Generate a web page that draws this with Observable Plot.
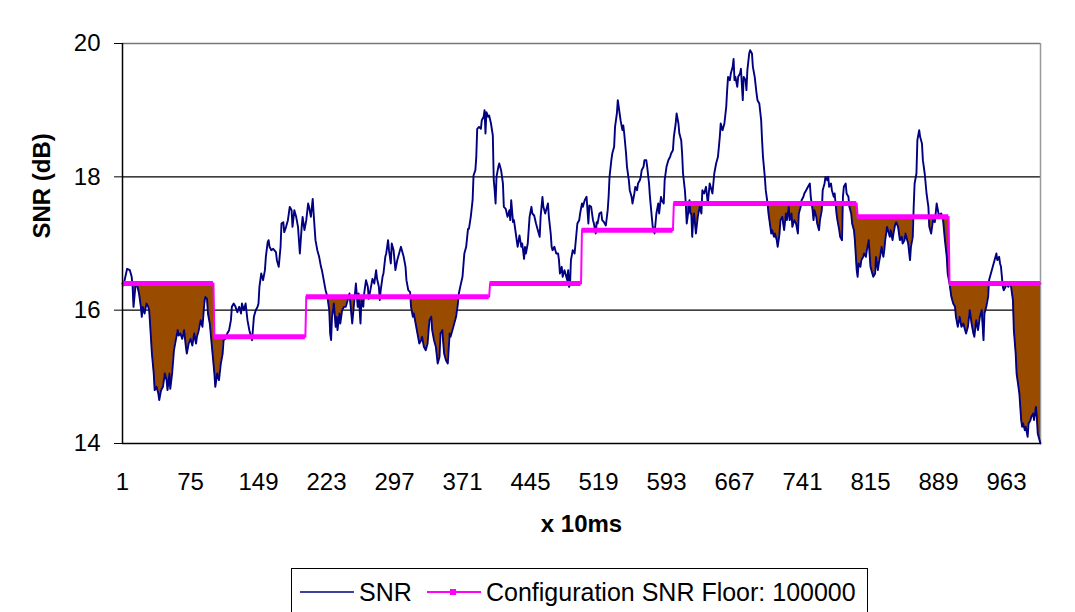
<!DOCTYPE html>
<html>
<head>
<meta charset="utf-8">
<script src="https://cdn.jsdelivr.net/npm/d3@7"></script>
<script src="https://cdn.jsdelivr.net/npm/@observablehq/plot@0.6"></script>
<style>
  html, body { margin: 0; padding: 0; background: #fff; overflow: hidden; width: 1075px; height: 612px; }
  #wrap { position: relative; width: 1075px; height: 612px; font-family: "Liberation Sans", Arial, sans-serif; }
  #legend { position: absolute; left: 291px; top: 568px; width: 577px; height: 60px; border: 1px solid #000; box-sizing: border-box; background: #fff; }
  #legend .it { position: absolute; top: 10px; font-size: 25px; line-height: 26px; color: #000; white-space: nowrap; }
  #legend svg { position: absolute; top: 18px; }
</style>
</head>
<body>
<div id="wrap"><div id="chart"></div><div id="legend"></div></div>
<script>
// ---- data ----
const xTicks = [1, 75, 149, 223, 297, 371, 445, 519, 593, 667, 741, 815, 889, 963];
const yTicks = [14, 16, 18, 20];
const xLabel = "x 10ms";
const yLabel = "SNR (dB)";
const seriesNames = ["SNR", "Configuration SNR Floor: 100000"];

// SNR samples: time index (x 10ms) and value (dB)
const snrTime = [
  1,2,6,9,11,12,13,15,17,19,
  21,22,23,25,27,29,30,31,33,35,
  36,38,40,41,43,45,47,49,50,52,
  53,55,57,59,61,62,64,66,68,70,
  71,73,75,77,79,81,82,84,86,88,
  90,91,93,94,96,97,99,101,102,104,
  106,108,110,111,113,115,117,119,120,122,
  124,126,128,130,131,133,135,137,139,140,
  142,144,146,148,149,150,152,154,156,157,
  159,160,161,163,165,168,169,171,173,174,
  176,177,179,181,183,185,186,188,190,192,
  194,196,197,199,201,203,204,206,208,209,
  211,213,215,217,218,220,222,224,226,227,
  228,229,231,233,234,235,237,238,240,242,
  244,246,248,249,251,253,255,257,258,260,
  261,263,264,266,268,269,271,273,275,277,
  278,280,281,282,284,285,287,288,290,291,
  293,294,296,297,298,300,302,304,306,307,
  309,310,312,314,315,317,318,320,322,324,
  326,327,329,331,333,335,337,338,340,342,
  344,346,347,349,351,353,355,357,358,360,
  362,364,366,367,369,371,373,375,377,378,
  380,382,383,385,386,387,389,391,392,394,
  395,396,397,399,400,402,404,405,406,407,
  408,410,411,413,415,416,418,420,422,423,
  424,426,427,429,431,433,435,436,438,439,
  440,442,444,446,447,449,451,453,455,456,
  458,459,461,462,464,465,467,468,469,471,
  473,475,476,477,479,480,482,483,485,486,
  487,488,489,491,493,495,496,498,499,501,
  502,504,506,508,509,511,513,514,516,517,
  518,520,522,523,525,527,529,530,531,533,
  534,536,537,539,540,542,543,545,546,547,
  549,550,552,553,555,556,558,559,561,562,
  564,565,566,568,569,571,572,574,575,577,
  578,580,581,582,584,585,587,588,590,591,
  593,594,595,597,598,600,601,603,604,606,
  607,609,610,611,613,614,615,617,618,619,
  620,621,622,623,625,627,629,631,632,634,
  636,638,640,641,643,645,647,649,651,652,
  654,656,658,659,660,662,663,665,666,667,
  668,670,671,673,674,676,677,679,680,681,
  683,684,686,687,689,691,692,694,696,697,
  698,700,701,703,704,705,707,708,710,711,
  713,714,716,717,719,720,721,723,724,726,
  727,729,730,732,734,736,737,739,740,742,
  743,745,747,749,750,752,753,754,756,757,
  759,760,762,763,765,766,768,769,770,772,
  773,775,776,778,779,781,782,784,785,786,
  788,789,791,792,794,795,797,798,800,801,
  802,804,805,807,808,810,811,813,814,815,
  817,818,820,821,823,824,826,827,829,830,
  831,833,834,836,837,839,840,842,843,845,
  846,847,849,850,852,853,855,856,858,859,
  861,862,863,865,866,868,869,871,872,874,
  876,878,879,881,883,885,887,889,890,892,
  894,896,898,899,901,903,905,907,908,910,
  912,914,916,918,919,921,923,925,927,928,
  930,932,934,936,938,939,941,943,944,946,
  947,949,950,952,953,955,956,957,959,960,
  962,963,965,967,968,970,971,973,974,976,
  977,979,980,981,983,984,986,987,989,990,
  992,993,995,996,997,999,1000
];
const snrDb = [
  16.40,16.37,16.62,16.60,16.50,16.35,16.05,16.35,16.37,16.25,
  16.05,15.90,16.05,15.95,16.10,16.05,16.00,15.80,15.35,15.05,
  14.80,14.85,14.75,14.65,14.80,14.85,15.05,14.95,14.80,15.05,
  14.82,15.05,15.40,15.55,15.70,15.62,15.65,15.57,15.70,15.45,
  15.35,15.50,15.57,15.47,15.65,15.50,15.60,15.70,15.85,15.75,
  16.10,16.20,16.17,15.95,15.80,15.65,15.35,15.05,14.85,15.05,
  14.95,15.20,15.35,15.55,15.57,15.65,15.70,15.85,16.05,16.10,
  16.05,15.97,16.05,15.95,16.10,16.00,16.10,15.85,15.70,15.65,
  15.55,15.90,16.00,16.05,16.10,16.35,16.55,16.45,16.60,16.80,
  17.02,17.05,16.95,16.90,16.92,16.87,16.75,16.65,16.95,17.30,
  17.32,17.17,17.25,17.35,17.55,17.50,17.25,17.50,17.40,17.25,
  16.85,17.25,17.40,17.20,17.35,17.60,17.55,17.40,17.67,17.45,
  17.05,16.90,16.80,16.65,16.60,16.45,16.30,16.20,16.00,15.65,
  15.55,15.90,16.10,15.75,15.90,15.70,15.95,15.80,16.00,16.05,
  16.05,16.15,16.25,16.10,15.80,16.10,16.40,16.05,16.25,15.80,
  16.15,16.05,16.25,16.45,16.35,16.17,16.32,16.47,16.40,16.60,
  16.47,16.35,16.15,16.30,16.50,16.55,16.80,16.85,17.05,16.90,
  16.70,17.00,16.90,16.75,16.60,16.75,16.85,16.95,16.85,16.80,
  16.65,16.45,16.30,16.27,16.05,15.90,15.95,15.80,15.65,15.50,
  15.55,15.60,15.45,15.40,15.50,15.85,15.90,15.70,15.55,15.45,
  15.20,15.30,15.65,15.70,15.35,15.25,15.20,15.65,15.60,15.70,
  15.80,15.90,16.10,16.25,16.38,16.50,16.85,16.95,17.22,17.22,
  17.40,17.65,18.02,18.10,18.30,18.72,18.75,18.72,18.85,18.90,
  19.00,18.65,18.97,18.90,18.92,18.80,18.62,17.95,17.80,17.60,
  18.00,18.15,18.20,18.10,17.90,17.55,17.52,17.40,17.50,17.35,
  17.65,17.32,17.35,17.15,16.95,17.12,16.95,17.00,16.77,16.95,
  16.85,17.00,17.40,17.55,17.45,17.42,17.30,17.20,17.10,17.40,
  17.70,17.55,17.45,17.50,17.60,17.40,17.15,16.95,16.90,16.95,
  16.85,16.85,16.75,16.55,16.65,16.50,16.60,16.55,16.45,16.60,
  16.35,16.38,16.75,16.90,16.85,17.15,17.30,17.35,17.45,17.60,
  17.55,17.65,17.70,17.30,17.57,17.55,17.35,17.30,17.15,17.32,
  17.30,17.45,17.47,17.35,17.32,17.27,17.50,17.70,18.00,18.25,
  18.35,18.45,18.75,18.95,19.15,18.95,18.85,18.70,18.77,18.65,
  18.35,18.15,17.95,17.80,17.70,17.60,17.75,17.85,17.80,17.90,
  17.95,18.00,18.10,18.15,18.25,18.25,18.15,17.90,17.70,17.40,
  17.25,17.15,17.30,17.45,17.60,17.45,17.70,17.65,17.60,17.95,
  18.15,18.20,18.25,18.30,18.35,18.40,18.60,18.80,18.95,18.80,
  18.65,18.55,18.35,18.05,17.80,17.60,17.30,17.50,17.65,17.45,
  17.45,17.10,17.35,17.45,17.15,17.40,17.55,17.45,17.80,17.75,
  17.85,17.60,17.90,17.85,17.75,18.05,18.20,18.30,18.60,18.80,
  18.70,18.80,19.05,19.30,19.50,19.45,19.55,19.65,19.77,19.45,
  19.50,19.35,19.50,19.55,19.62,19.15,19.50,19.45,19.30,19.60,
  19.85,19.90,19.85,19.65,19.50,19.25,19.15,19.10,18.85,18.55,
  18.30,18.00,17.80,17.60,17.45,17.35,17.15,17.20,17.10,17.15,
  17.05,16.95,17.15,17.35,17.40,17.30,17.20,17.45,17.35,17.55,
  17.35,17.45,17.25,17.35,17.30,17.15,17.45,17.55,17.65,17.70,
  17.75,17.80,17.85,17.90,17.70,17.50,17.35,17.50,17.40,17.30,
  17.20,17.35,17.50,17.80,17.90,18.00,17.95,18.00,17.85,17.90,
  17.80,17.70,17.75,17.45,17.35,17.20,17.10,17.05,17.70,17.85,
  17.90,17.75,17.70,17.55,17.45,17.30,17.20,17.05,16.60,16.50,
  16.70,16.65,16.75,16.80,16.85,16.80,16.90,17.05,16.85,16.65,
  16.55,16.50,16.55,16.80,16.60,16.70,16.85,16.95,16.80,16.90,
  17.05,17.25,17.20,17.10,17.20,17.05,17.15,17.30,17.32,17.25,
  17.15,17.05,17.10,17.00,17.05,17.15,17.05,17.00,16.75,16.95,
  17.10,17.55,17.90,18.05,18.55,18.70,18.60,18.50,18.25,18.05,
  17.75,17.55,17.25,17.15,17.35,17.32,17.60,17.45,17.42,17.45,
  17.35,17.05,16.80,16.55,16.40,16.20,16.10,16.05,15.90,15.75,
  15.90,15.75,15.80,15.70,15.65,15.75,16.00,15.80,15.65,15.60,
  15.85,15.70,15.90,16.00,15.55,15.95,16.05,16.20,16.45,16.55,
  16.60,16.70,16.75,16.85,16.75,16.80,16.70,16.65,16.35,16.30,
  16.35,16.40,16.35,16.40,16.35,16.15,15.70,15.35,15.05,14.85,
  14.75,14.35,14.25,14.30,14.20,14.25,14.10,14.30,14.35,14.40,
  14.45,14.35,14.55,14.40,14.15,14.05,14.00
];

// Configured SNR floor, piecewise constant
const floorStart = [1, 101, 201, 401, 501, 601, 801, 901];
const floorEnd   = [100, 200, 400, 500, 600, 800, 900, 1000];
const floorDb    = [16.4, 15.6, 16.2, 16.4, 17.2, 17.6, 17.4, 16.4];

// ---- build tables ----
const n = Math.min(snrTime.length, snrDb.length);
const snrRows = d3.range(n).map(i => ({t: snrTime[i], db: snrDb[i]})).sort((a, b) => a.t - b.t);
const floorBlocks = floorStart.map((s, i) => ({s, e: floorEnd[i], db: floorDb[i]}));
const floorPts = floorBlocks.flatMap(b => [{t: b.s, db: b.db}, {t: b.e, db: b.db}]);

function floorAt(t) {
  let v = floorBlocks[0].db;
  for (const b of floorBlocks) if (b.s <= t) v = b.db;
  return v;
}
const ts = snrRows.map(d => d.t);
function snrAt(t) {
  const i = d3.bisectLeft(ts, t);
  if (i <= 0) return snrRows[0].db;
  if (i >= ts.length) return snrRows[ts.length - 1].db;
  const a = snrRows[i - 1], b = snrRows[i];
  if (b.t === t) return b.db;
  return a.db + (b.db - a.db) * (t - a.t) / (b.t - a.t);
}
// shading geometry between the floor and the SNR where SNR is below the floor
const fillRows = d3.range(1, 1000.001, 0.25).map(t => {
  const fl = floorAt(t);
  return {t, fl, lo: Math.min(snrAt(t), fl)};
});

const FONT = '"Liberation Sans", Arial, sans-serif';
const chart = Plot.plot({
  width: 1075,
  height: 560,
  marginTop: 43,
  marginBottom: 117,
  marginLeft: 122,
  marginRight: 35,
  style: {fontFamily: FONT, fontSize: "24px", color: "#000", background: "#fff", overflow: "visible"},
  x: {domain: [1, 1000]},
  y: {domain: [14, 20]},
  marks: [
    Plot.ruleY([16, 18], {stroke: "#000", strokeWidth: 1.2}),
    Plot.ruleY([20], {stroke: "#777", strokeWidth: 1.5}),
    Plot.ruleX([1000], {stroke: "#999", strokeWidth: 1.5}),
    Plot.areaY(fillRows, {x: "t", y1: "lo", y2: "fl", fill: "#994C00", curve: "linear"}),
    Plot.line(snrRows, {x: "t", y: "db", stroke: "#000080", strokeWidth: 1.9}),
    Plot.line(floorPts, {x: "t", y: "db", stroke: "#FF00FF", strokeWidth: 2}),
    Plot.ruleY(floorBlocks, {y: "db", x1: "s", x2: "e", stroke: "#FF00FF", strokeWidth: 5}),
    Plot.ruleX([1], {stroke: "#000", strokeWidth: 1.5}),
    Plot.ruleY([14], {stroke: "#000", strokeWidth: 1.5}),
    Plot.axisY({ticks: yTicks, tickSize: 8, tickPadding: 14, fontSize: 24, label: null, tickFormat: d => String(d)}),
    Plot.axisX({ticks: xTicks, tickSize: 0, tickPadding: 29, fontSize: 24, label: null, tickFormat: d => String(d)}),
    Plot.text([xLabel], {text: d => d, frameAnchor: "bottom", dy: 88, fontSize: 24, fontWeight: "bold"}),
    Plot.text([yLabel], {text: d => d, frameAnchor: "left", dx: -80, dy: -5, rotate: -90, fontSize: 24, fontWeight: "bold"})
  ]
});
document.getElementById("chart").appendChild(chart);

// ---- legend ----
const lg = document.getElementById("legend");
const sw1 = document.createElementNS("http://www.w3.org/2000/svg", "svg");
sw1.setAttribute("width", 54); sw1.setAttribute("height", 10); sw1.style.left = "8px";
sw1.innerHTML = '<line x1="0" y1="5" x2="54" y2="5" stroke="#000080" stroke-width="1.6"/>';
lg.appendChild(sw1);
const t1 = document.createElement("span"); t1.className = "it"; t1.style.left = "67px"; t1.textContent = seriesNames[0]; lg.appendChild(t1);
const sw2 = document.createElementNS("http://www.w3.org/2000/svg", "svg");
sw2.setAttribute("width", 54); sw2.setAttribute("height", 10); sw2.style.left = "135px";
sw2.innerHTML = '<line x1="0" y1="5" x2="54" y2="5" stroke="#FF00FF" stroke-width="2"/><rect x="23" y="2" width="6" height="6" fill="#FF00FF"/>';
lg.appendChild(sw2);
const t2 = document.createElement("span"); t2.className = "it"; t2.style.left = "194px"; t2.textContent = seriesNames[1]; lg.appendChild(t2);
</script>
</body>
</html>
